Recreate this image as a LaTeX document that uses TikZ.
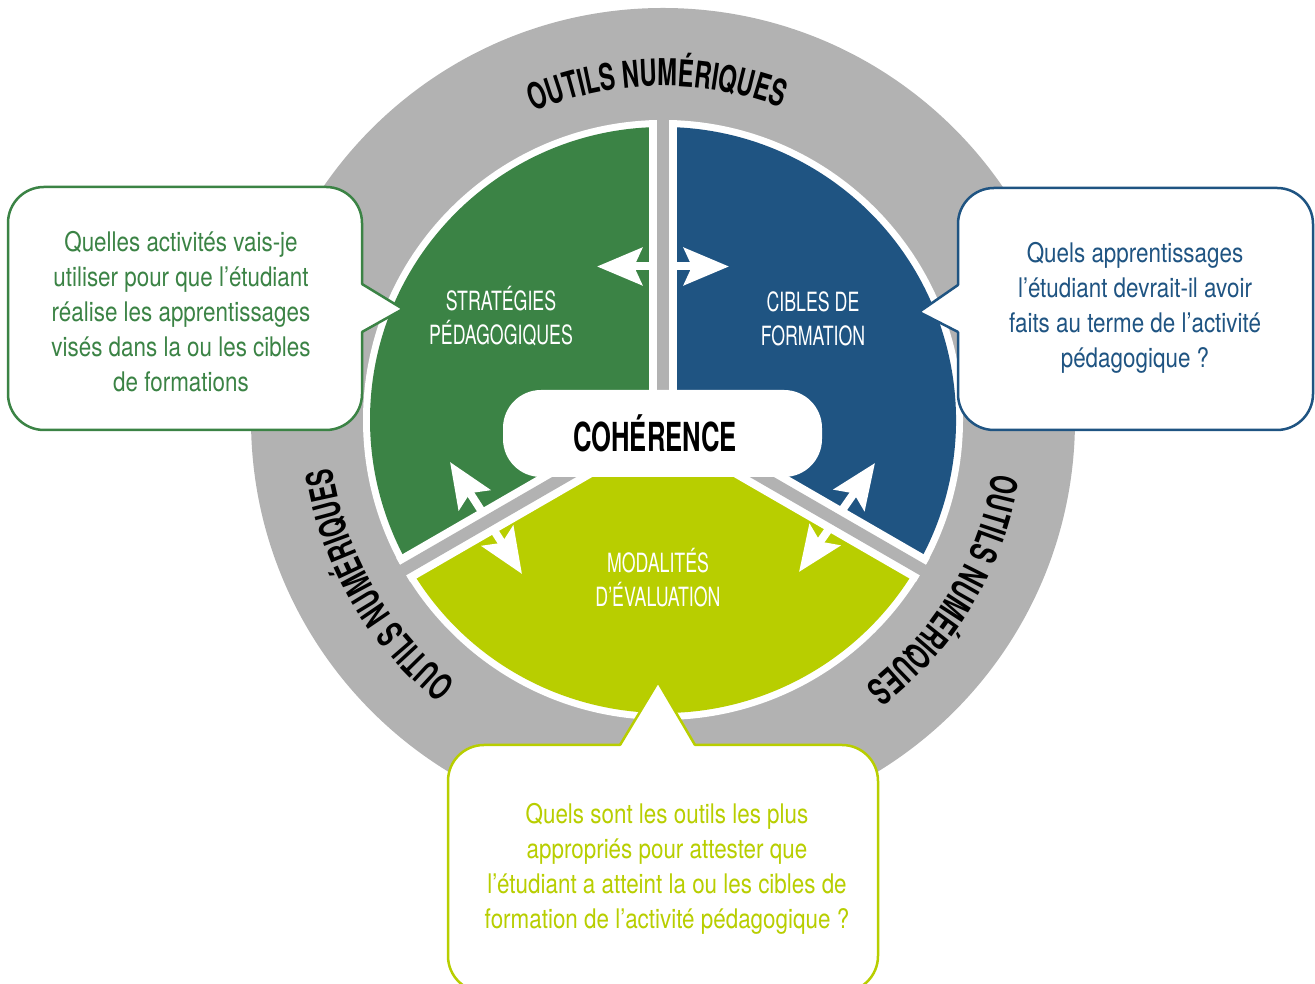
\documentclass[tikz,border=0pt]{standalone}
\usepackage{fontspec}
\setmainfont{TeX Gyre Heros}
\newfontfamily\qfont{TeX Gyre Heros}[FakeStretch=0.83]
\newfontfamily\capfont{TeX Gyre Heros}[FakeStretch=0.67]
\newfontfamily\heavyfont{TeX Gyre Heros}[FakeStretch=0.64]
\usetikzlibrary{arrows.meta,decorations.text}
\definecolor{cgreen}{RGB}{59,131,69}
\definecolor{cblue}{RGB}{31,84,130}
\definecolor{clime}{RGB}{184,206,0}
\definecolor{cgray}{RGB}{178,178,178}
\begin{document}
\begin{tikzpicture}[x=1pt,y=1pt,
  qbox/.style={draw=#1, line width=2.5pt, fill=white, rounded corners=36pt, inner sep=0pt},
  qtext/.style={text=#1, align=center, inner sep=0pt,
    font=\qfont\fontsize{27}{35}\selectfont},
  qedge/.style={draw=#1, line width=2.5pt, line join=miter},
  seclabel/.style={text=white, align=center, inner sep=0pt,
    font=\capfont\fontsize{26.5}{34}\selectfont},
  dblarrow/.style={white, line width=8pt,
    {Stealth[length=45pt,width=37pt,inset=8pt]}-{Stealth[length=45pt,width=37pt,inset=8pt]}},
  ringtext/.style={decorate, decoration={text along path, text align=center,
    text={|\heavyfont\bfseries\fontsize{37}{37}\selectfont|OUTILS NUMÉRIQUES}}}
]
\useasboundingbox (0,0) rectangle (1315,984);
\clip (0,0) rectangle (1315,984);
\coordinate (C) at (663,564);

% outer ring and white base
\fill[cgray] (C) circle[radius=412];
\fill[white] (C) circle[radius=300];

% sectors
\fill[cgreen] (C) -- ([shift={(90:293)}]C) arc[start angle=90, end angle=210, radius=293] -- cycle;
\fill[clime] (C) -- ([shift={(210:293)}]C) arc[start angle=210, end angle=330, radius=293] -- cycle;
\fill[cblue] (C) -- ([shift={(-30:293)}]C) arc[start angle=-30, end angle=90, radius=293] -- cycle;

% separators (white)
\foreach \a in {90,210,330}
  \draw[white, line width=28pt] (C) -- ([shift={(\a:300)}]C);

% arrows
\coordinate (ha) at (597,717.5);
\coordinate (hb) at (729,717.5);
\coordinate (la) at (450,522);
\coordinate (lb) at (522,410);
\coordinate (ra) at (875,521);
\coordinate (rb) at (799,412);
\draw[dblarrow] (ha) -- (hb);
\draw[dblarrow] (la) -- (lb);
\draw[dblarrow] (ra) -- (rb);

% separators (gray core)
\foreach \a in {90,210,330}
  \draw[cgray, line width=12pt] (C) -- ([shift={(\a:330)}]C);

% central box
\node[fill=white, rounded corners=38pt, minimum width=319pt, minimum height=87pt, inner sep=0pt] (coh) at (662.5,550.5) {};
\node[font=\heavyfont\bfseries\fontsize{40}{40}\selectfont, inner sep=0pt] (cohlabel) at (655,551) {COHÉRENCE};

% sector labels
\node[seclabel] (strat) at (501,668) {STRATÉGIES\\PÉDAGOGIQUES};
\node[seclabel] (cibles) at (813,665.5) {CIBLES DE\\FORMATION};
\node[seclabel] (modal) at (658,406) {MODALITÉS\\D’ÉVALUATION};

% ring texts
\path[ringtext] ([shift={(121:334)}]C) arc[start angle=121, end angle=61, radius=334];
\path[ringtext] ([shift={(240:334)}]C) arc[start angle=240, end angle=180, radius=334];
\path[ringtext] ([shift={(359:334)}]C) arc[start angle=359, end angle=299, radius=334];

% left question box
\node[qbox=cgreen, minimum width=354pt, minimum height=243pt] (qleft) at (185,675.5) {};
\node[qtext=cgreen] (qlefttext) at (181,672)
  {Quelles activités vais-je\\utiliser pour que l’étudiant\\réalise les apprentissages\\visés dans la ou les cibles\\de formations};
\coordinate (lp1) at (362,700);
\coordinate (lpt) at (403,675);
\coordinate (lp2) at (362,652);
\fill[white] (360,700) -- (lpt) -- (360,652) -- cycle;
\draw[qedge=cgreen] (lp1) -- (lpt) -- (lp2);

% right question box
\node[qbox=cblue, minimum width=355pt, minimum height=242pt] (qright) at (1135.5,675) {};
\node[qtext=cblue] (qrighttext) at (1135,676.5)
  {Quels apprentissages\\l’étudiant devrait-il avoir\\faits au terme de l’activité\\pédagogique ?};
\coordinate (rp1) at (958,699);
\coordinate (rpt) at (919,672);
\coordinate (rp2) at (958,652);
\fill[white] (960,699) -- (rpt) -- (960,652) -- cycle;
\draw[qedge=cblue] (rp1) -- (rpt) -- (rp2);

% bottom question box
\node[qbox=clime, minimum width=430pt, minimum height=247pt] (qbottom) at (663,115.5) {};
\node[qtext=clime] (qbottomtext) at (667,115.5)
  {Quels sont les outils les plus\\appropriés pour attester que\\l’étudiant a atteint la ou les cibles de\\formation de l’activité pédagogique ?};
\coordinate (bp1) at (620,239);
\coordinate (bpt) at (658,302);
\coordinate (bp2) at (695,239);
\fill[white] (620,237) -- (bpt) -- (695,237) -- cycle;
\draw[qedge=clime] (bp1) -- (bpt) -- (bp2);
\end{tikzpicture}
\end{document}
